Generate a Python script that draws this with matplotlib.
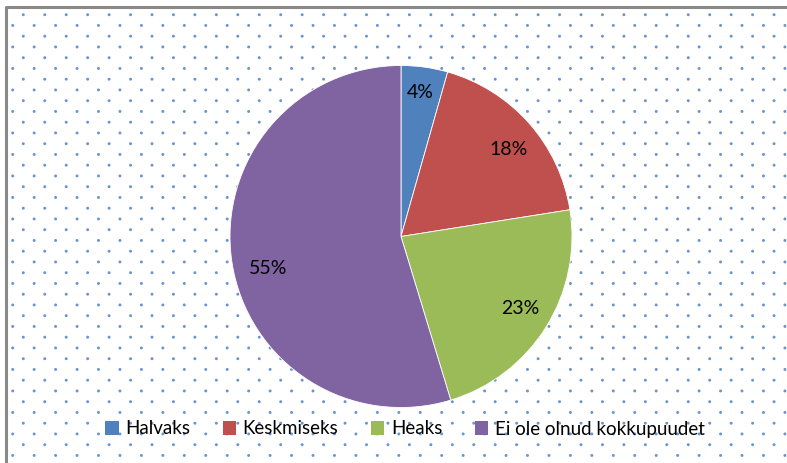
import numpy as np
import matplotlib
matplotlib.use('Agg')
import matplotlib.pyplot as plt
from matplotlib.patches import Patch

plt.rcParams['font.family'] = ['Lato', 'DejaVu Sans']

categories = ['Halvaks', 'Keskmiseks', 'Heaks', 'Ei ole olnud kokkupuudet']
shares = [4.4, 18.1, 22.8, 54.7]
colors = ['#4F81BD', '#C0504D', '#9BBB59', '#8064A2']

W, H = 787, 463
fig = plt.figure(figsize=(W / 100, H / 100), dpi=100)

# background: dotted texture + frame, in pixel coords (y from top)
bg = fig.add_axes([0, 0, 1, 1])
bg.set_xlim(0, W)
bg.set_ylim(H, 0)
bg.axis('off')

dx, dy = 21.45, 10.75
rows = np.arange(14.7, H + dy, dy)
for i, yy in enumerate(rows):
    x0 = 23.3 if i % 2 == 0 else 12.7
    xs = np.arange(x0, W + dx, dx)
    bg.scatter(xs, np.full_like(xs, yy), s=4.5, color='#6894d2',
               edgecolors='none', zorder=1)

bg.plot([6, 6, W], [H, 7, 7], color='#898989', lw=2.2,
        solid_capstyle='butt', zorder=2)

# pie
cx, cy, r = 401, 236.5, 171
ax = fig.add_axes([(cx - r) / W, (H - cy - r) / H, 2 * r / W, 2 * r / H])
wedges, texts, autotexts = ax.pie(
    shares, colors=colors, startangle=90, counterclock=False,
    autopct='%.0f%%', pctdistance=0.81, radius=1,
    wedgeprops=dict(edgecolor='white', linewidth=0.6),
    textprops=dict(fontsize=14, color='black'))
ax.set_xlim(-1, 1)
ax.set_ylim(-1, 1)
ax.set_aspect('auto')

# Excel-like label placement (in units of radius)
label_pos = [(0.11, 0.84), (0.63, 0.51), (0.70, -0.42), (-0.78, -0.19)]
for t, p in zip(autotexts, label_pos):
    t.set_position(p)

handles = [Patch(facecolor=c, edgecolor='none') for c in colors]
fig.legend(handles, categories, loc='center', ncol=4,
           bbox_to_anchor=(405 / W, 1 - 429 / H), frameon=False,
           fontsize=13.5, handlelength=0.7, handleheight=0.7,
           handletextpad=0.35, columnspacing=1.75, borderpad=0)

fig.savefig('out.png', dpi=100)
